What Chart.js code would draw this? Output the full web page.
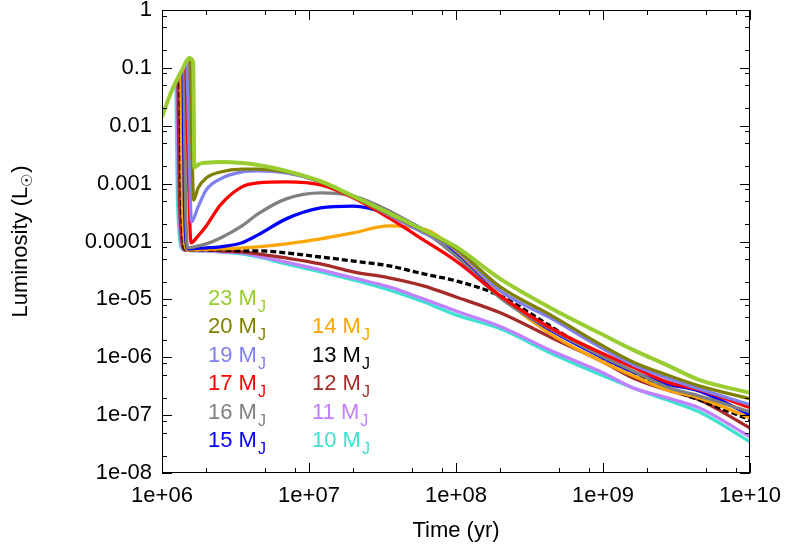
<!DOCTYPE html>
<html>
<head>
<meta charset="utf-8">
<script src="https://cdn.jsdelivr.net/npm/chart.js@4.4.1/dist/chart.umd.min.js"></script>
<style>
  html, body { margin: 0; padding: 0; background: #fff; }
</style>
</head>
<body>
<canvas id="chart" width="789" height="552"></canvas>
<script>
// shared time grid (yr) for the cooling part of every track
const timeGrid = [2e6, 2.5e6, 3.5e6, 4.5e6, 7e6, 1.2e7, 2e7, 3.5e7, 6e7, 1e8, 2e8, 4.5e8, 1e9, 1.6e9, 2.7e9, 4.5e9, 1e10];

// early phase (deuterium burning spike), per mass
const earlyT23 = [1e6, 1.17e6, 1.37e6, 1.53e6, 1.63e6, 1.66e6, 1.8e6];
const earlyL23 = [0.0142, 0.0415, 0.092, 0.148, 0.125, 1.9e-3, 2.2e-3];
const earlyT20 = [1.55e6, 1.6e6, 1.64e6, 1.76e6];
const earlyL20 = [0.135, 3.8e-3, 5.2e-4, 8.4e-4];
const earlyT19 = [1.48e6, 1.53e6, 1.585e6, 1.76e6];
const earlyL19 = [0.126, 3.8e-3, 2.18e-4, 3.96e-4];
const earlyT17 = [1.456e6, 1.5e6, 1.575e6, 1.76e6];
const earlyL17 = [0.112, 3.8e-3, 9.5e-5, 1.25e-4];
const earlyT16 = [1.41e6, 1.445e6, 1.5e6, 1.76e6];
const earlyL16 = [0.104, 5.2e-4, 7.75e-5, 8.4e-5];
const earlyT15 = [1.39e6, 1.42e6, 1.5e6];
const earlyL15 = [0.0995, 5.2e-4, 7.45e-5];
const earlyT14 = [1.346e6, 1.377e6, 1.48e6];
const earlyL14 = [0.085, 5.2e-4, 7.2e-5];
const earlyT13 = [1.325e6, 1.358e6, 1.456e6];
const earlyL13 = [0.0785, 5.2e-4, 7.2e-5];
const earlyT12 = [1.285e6, 1.315e6, 1.43e6];
const earlyL12 = [0.067, 5.2e-4, 7.2e-5];
const earlyT11 = [1.265e6, 1.295e6, 1.41e6];
const earlyL11 = [0.0618, 5.2e-4, 7.2e-5];
const earlyT10 = [1.245e6, 1.274e6, 1.39e6];
const earlyL10 = [0.057, 5.2e-4, 7.2e-5];

// luminosity (Lsun) on timeGrid
const lum23 = [2.3e-3, 2.37e-3, 2.28e-3, 2.1e-3, 1.66e-3, 1.1e-3, 6.1e-4, 3.1e-4, 1.59e-4, 8.1e-5, 2.26e-5, 6.9e-6, 2.44e-6, 1.34e-6, 7.4e-7, 4.07e-7, 2.43e-7];
const lum20 = [1.25e-3, 1.59e-3, 1.78e-3, 1.78e-3, 1.59e-3, 1.07e-3, 5.9e-4, 3.0e-4, 1.52e-4, 7.45e-5, 1.64e-5, 5.2e-6, 1.57e-6, 8.3e-7, 4.97e-7, 3.2e-7, 1.91e-7];
const lum19 = [7.8e-4, 1.21e-3, 1.59e-3, 1.66e-3, 1.53e-3, 1.07e-3, 5.9e-4, 2.88e-4, 1.41e-4, 7.2e-5, 1.4e-5, 4.6e-6, 1.4e-6, 7.4e-7, 4.4e-7, 2.84e-7, 1.51e-7];
const lum17 = [1.86e-4, 4.3e-4, 8.8e-4, 1.03e-3, 1.07e-3, 9.5e-4, 5.7e-4, 2.56e-4, 1.07e-4, 4.6e-5, 1.15e-5, 3.1e-6, 1.15e-6, 6.8e-7, 3.76e-7, 2.74e-7, 1.34e-7];
const lum16 = [9.1e-5, 1.15e-4, 1.86e-4, 3.0e-4, 5.45e-4, 6.9e-4, 6.1e-4, 3.4e-4, 1.52e-4, 5.6e-5, 1.06e-5, 2.97e-6, 1.02e-6, 5.8e-7, 3.08e-7, 2.15e-7, 1.14e-7];
const lum15 = [7.75e-5, 8.1e-5, 9.5e-5, 1.3e-4, 2.46e-4, 3.8e-4, 4.1e-4, 3.0e-4, 1.59e-4, 5.9e-5, 1.1e-5, 2.86e-6, 9.8e-7, 5.6e-7, 3.47e-7, 2.63e-7, 1.01e-7];
const lum14 = [7.3e-5, 7.45e-5, 7.75e-5, 8.1e-5, 9.1e-5, 1.11e-4, 1.41e-4, 1.86e-4, 1.65e-4, 6.9e-5, 1.15e-5, 2.44e-6, 8.3e-7, 4.8e-7, 2.74e-7, 1.99e-7, 9.0e-8];
const lum13 = [7.2e-5, 7.2e-5, 6.9e-5, 6.9e-5, 6.35e-5, 5.4e-5, 4.6e-5, 3.8e-5, 2.76e-5, 2.09e-5, 1.15e-5, 3.3e-6, 9.8e-7, 5.6e-7, 2.96e-7, 1.84e-7, 8.3e-8];
const lum12 = [7.2e-5, 6.9e-5, 6.6e-5, 6.1e-5, 5.2e-5, 4.1e-5, 2.99e-5, 2.35e-5, 1.71e-5, 1.1e-5, 5.85e-6, 2.16e-6, 8.3e-7, 4.4e-7, 2.74e-7, 1.84e-7, 6.0e-8];
const lum11 = [6.9e-5, 6.6e-5, 6.35e-5, 5.6e-5, 4.4e-5, 3.23e-5, 2.35e-5, 1.64e-5, 1.02e-5, 6.3e-6, 3.4e-6, 1.28e-6, 5.4e-7, 2.96e-7, 2.0e-7, 1.34e-7, 4.2e-8];
const lum10 = [6.9e-5, 6.6e-5, 6.1e-5, 5.4e-5, 4.1e-5, 2.99e-5, 2.17e-5, 1.46e-5, 9.1e-6, 5.4e-6, 3.1e-6, 1.15e-6, 4.8e-7, 2.96e-7, 1.84e-7, 1.14e-7, 3.46e-8];

const masses = [23, 20, 19, 17, 16, 15, 14, 13, 12, 11, 10];
const colors = ['#9acd32', '#808000', '#8080f0', '#ff0000', '#808080', '#0000ff', '#ffa500', '#000000', '#a52a2a', '#c080ff', '#40e0d0'];

const xTickValues = [1e6, 1e7, 1e8, 1e9, 1e10];
const xTickLabels = ['1e+06', '1e+07', '1e+08', '1e+09', '1e+10'];
const yTickValues = [1e-8, 1e-7, 1e-6, 1e-5, 1e-4, 1e-3, 1e-2, 1e-1, 1];
const yTickLabels = ['1e-08', '1e-07', '1e-06', '1e-05', '0.0001', '0.001', '0.01', '0.1', '1'];
const minorSteps = [2, 5, 8];

const FONT = "'Liberation Sans', Arial, Helvetica, sans-serif";

const tracks = [
  [earlyT23, earlyL23, lum23], [earlyT20, earlyL20, lum20], [earlyT19, earlyL19, lum19],
  [earlyT17, earlyL17, lum17], [earlyT16, earlyL16, lum16], [earlyT15, earlyL15, lum15],
  [earlyT14, earlyL14, lum14], [earlyT13, earlyL13, lum13], [earlyT12, earlyL12, lum12],
  [earlyT11, earlyL11, lum11], [earlyT10, earlyL10, lum10]
];

const datasets = tracks.map(([et, el, lum], i) => {
  const t = et.concat(timeGrid);
  const l = el.concat(lum);
  return {
    label: masses[i] + ' MJ',
    data: t.map((x, k) => ({ x: x, y: l[k] })),
    borderColor: colors[i],
    borderWidth: i == 0 ? 4 : 3.3,
    borderDash: masses[i] == 13 ? [6, 3] : [],
    pointRadius: 0,
    fill: false
  };
});

// frame, inward ticks on all four sides, axis titles, in-plot legend
const decor = {
  id: 'decor',
  afterDraw(chart) {
    const ctx = chart.ctx;
    const a = chart.chartArea;
    const xs = chart.scales.x, ys = chart.scales.y;
    ctx.save();
    ctx.strokeStyle = '#000';
    ctx.lineWidth = 1;
    ctx.strokeRect(a.left + 0.5, a.top + 0.5, a.right - a.left - 1, a.bottom - a.top - 1);

    const tick = (x1, y1, x2, y2) => {
      ctx.beginPath(); ctx.moveTo(x1, y1); ctx.lineTo(x2, y2); ctx.stroke();
    };
    xTickValues.forEach(v => {
      const px = Math.round(xs.getPixelForValue(v)) + 0.5;
      tick(px, a.bottom, px, a.bottom - 10);
      tick(px, a.top, px, a.top + 10);
      if (v == 1e10) return;
      minorSteps.forEach(m => {
        const p = Math.round(xs.getPixelForValue(v * m)) + 0.5;
        tick(p, a.bottom, p, a.bottom - 5);
        tick(p, a.top, p, a.top + 5);
      });
    });
    yTickValues.forEach(v => {
      const py = Math.round(ys.getPixelForValue(v)) + 0.5;
      tick(a.left, py, a.left + 10, py);
      tick(a.right, py, a.right - 10, py);
      if (v == 1) return;
      minorSteps.forEach(m => {
        const p = Math.round(ys.getPixelForValue(v * m)) + 0.5;
        tick(a.left, p, a.left + 5, p);
        tick(a.right, p, a.right - 5, p);
      });
    });

    // axis titles
    ctx.fillStyle = '#000';
    ctx.textBaseline = 'middle';
    ctx.textAlign = 'center';
    ctx.font = '22px ' + FONT;
    ctx.fillText('Time (yr)', (a.left + a.right) / 2, 531);

    ctx.save();
    ctx.translate(19, (a.top + a.bottom) / 2);
    ctx.rotate(-Math.PI / 2);
    ctx.textAlign = 'left';
    ctx.textBaseline = 'alphabetic';
    ctx.font = '22px ' + FONT;
    const p1 = 'Luminosity (L', p3 = ')';
    const w1 = ctx.measureText(p1).width, w3 = ctx.measureText(p3).width;
    ctx.font = '15px ' + FONT;
    const w2 = ctx.measureText('\u2609').width;
    let x0 = -(w1 + w2 + w3 + 1) / 2;
    ctx.font = '22px ' + FONT;
    ctx.fillText(p1, x0, 8);
    ctx.font = '15px ' + FONT;
    ctx.fillText('\u2609', x0 + w1, 13);
    ctx.font = '22px ' + FONT;
    ctx.fillText(p3, x0 + w1 + w2 + 1, 8);
    ctx.restore();

    // legend text, two columns
    ctx.textAlign = 'left';
    ctx.textBaseline = 'alphabetic';
    masses.forEach((m, i) => {
      const col = i < 6 ? 0 : 1;
      const row = i < 6 ? i : i - 5;
      const x = col == 0 ? 208 : 312;
      const y = 305 + row * 28.4;
      ctx.fillStyle = colors[i];
      ctx.font = '22px ' + FONT;
      const txt = m + ' M';
      ctx.fillText(txt, x, y);
      const w = ctx.measureText(txt).width;
      ctx.font = '16px ' + FONT;
      ctx.fillText('J', x + w + 1, y + 7);
    });
    ctx.restore();
  }
};

const ctx = document.getElementById('chart').getContext('2d');
new Chart(ctx, {
  type: 'line',
  data: { datasets: datasets },
  options: {
    responsive: false,
    animation: false,
    devicePixelRatio: 1,
    layout: { padding: { top: 10, right: 39, left: 0, bottom: 0 } },
    plugins: { legend: { display: false }, tooltip: { enabled: false } },
    elements: { line: { cubicInterpolationMode: 'monotone' }, point: { radius: 0 } },
    scales: {
      x: {
        type: 'logarithmic',
        min: 1e6,
        max: 1e10,
        grid: { display: false, drawTicks: false },
        border: { display: false },
        afterBuildTicks: (s) => { s.ticks = xTickValues.map(v => ({ value: v })); },
        afterFit: (s) => { s.height = 79; s.paddingLeft = 0; s.paddingRight = 0; },
        ticks: {
          autoSkip: false, maxRotation: 0, padding: 12, color: '#000',
          font: { family: FONT, size: 22, lineHeight: 1 },
          callback: (v, i) => xTickLabels[i]
        }
      },
      y: {
        type: 'logarithmic',
        min: 1e-8,
        max: 1,
        grid: { display: false, drawTicks: false },
        border: { display: false },
        afterBuildTicks: (s) => { s.ticks = yTickValues.map(v => ({ value: v })); },
        afterFit: (s) => { s.width = 162; s.paddingTop = 0; s.paddingBottom = 0; },
        ticks: {
          autoSkip: false, padding: 10, color: '#000',
          font: { family: FONT, size: 22, lineHeight: 1 },
          callback: (v, i) => yTickLabels[i]
        }
      }
    }
  },
  plugins: [decor]
});
</script>
</body>
</html>
